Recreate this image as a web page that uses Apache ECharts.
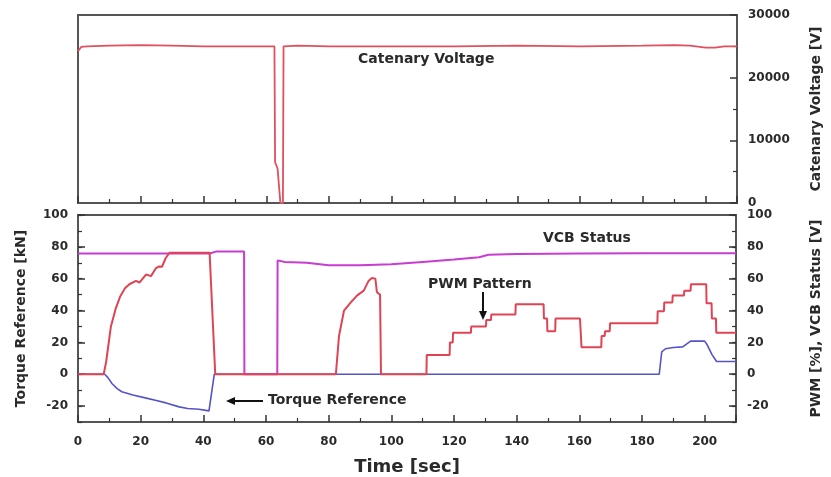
<!DOCTYPE html>
<html>
<head>
<meta charset="utf-8">
<script src="https://cdn.jsdelivr.net/npm/echarts@6/dist/echarts.min.js"></script>
<style>
  html, body { margin: 0; padding: 0; background: #fff; }
  #chart { width: 831px; height: 477px; }
</style>
</head>
<body>
<div id="chart"></div>
<script>
// catenary voltage (top panel)
const catTime = [0, 1, 3, 10, 20, 30, 40, 50, 60, 62.6, 62.8, 63.6, 64.0, 64.5, 65.3, 65.5, 70, 80, 100, 120, 140, 160, 180, 190, 195, 200, 203, 206, 210]
const catVolt = [24200, 24900, 25000, 25100, 25200, 25100, 25000, 25000, 25000, 25000, 6500, 5500, 3000, 0, 0, 25000, 25100, 25000, 25000, 25000, 25100, 25000, 25100, 25200, 25100, 24800, 24800, 25000, 25000]

// VCB status (magenta)
const vcbTime = [0, 42, 44, 53, 53.1, 63.6, 63.7, 66, 73, 80, 90, 100, 110, 120, 128, 131, 140, 160, 180, 200, 210]
const vcbVal = [75.8, 75.8, 77, 77, 0, 0, 71.5, 70.5, 70, 68.5, 68.5, 69, 70.5, 72, 73.5, 75, 75.5, 75.8, 76, 76, 76]

// PWM pattern (red)
const pwmTime = [0, 8.2, 9, 10.5, 12, 13.5, 15, 16.4, 18.5, 19.6, 21.7, 23.3, 24.9, 25.9, 26.8, 28, 29.2, 42, 43.8,
  82.3, 83.3, 84.9, 87, 89.1, 91.2, 92.7, 93.8, 94.9, 95.4, 96.4, 96.7,
  111.2, 111.3, 118.6, 118.7, 119.6, 119.7, 125.4, 125.5, 130.2, 130.3, 131.8, 131.9, 139.6, 139.7,
  148.6, 148.7, 149.7, 149.8, 152.3, 152.4, 160.2, 160.7, 167, 167.1, 168.1, 168.2, 169.7, 169.8,
  184.9, 185, 187, 187.1, 189.7, 189.8, 193.4, 193.5, 195.5, 195.6, 200.5, 200.6, 202.2, 202.3, 203.6, 203.7, 210]
const pwmVal = [0, 0, 8, 30, 41, 49, 54, 56.5, 58.6, 57.6, 62.6, 61.6, 66.7, 67.7, 67.5, 73, 76.3, 76.3, 0,
  0, 24, 40, 45, 49.5, 52.5, 58.5, 60.5, 60, 51.5, 50, 0,
  0, 12, 12, 20, 20, 26, 26, 30, 30, 34, 34, 37.5, 37.5, 44,
  44, 35, 35, 27, 27, 35, 35, 17, 17, 24, 24, 27, 27, 32,
  32, 39.5, 39.5, 45, 45, 49.5, 49.5, 52.5, 52.5, 56.5, 56.5, 44.5, 44.5, 35, 35, 26, 26]

// torque reference (blue)
const tqTime = [0, 8.5, 9.5, 10.9, 12.5, 14, 17.5, 21.8, 25, 28.1, 32.3, 35, 38.6, 41.8, 42.3, 43.5,
  185.5, 186.3, 187.5, 190, 193, 195.5, 200, 200.8, 202.3, 203.8, 210]
const tqVal = [0, 0, -2, -6, -9, -11, -13, -15, -16.5, -18, -20.5, -21.5, -22, -23, -23, 0,
  0, 14, 16, 16.8, 17.2, 20.8, 20.8, 18.5, 12.5, 8, 8]

const timeTicks = [0, 20, 40, 60, 80, 100, 120, 140, 160, 180, 200]
const lowerTicks = [-20, 0, 20, 40, 60, 80, 100]

const pairs = (xs, ys) => xs.map((x, i) => [x, ys[i]])

const FONT = 'DejaVu Sans'
const INK = '#2a2a2a'
const FRAME = '#555'
const TICK = '#333'

let chart = echarts.init(document.getElementById('chart'))

let xBase = {
  type: 'value',
  min: 0,
  max: 210,
  interval: 20,
  axisLine: { show: false, onZero: false },
  splitLine: { show: false },
  axisTick: { inside: true, length: 7, lineStyle: { color: TICK, width: 1.5 } },
  minorTick: { show: true, splitNumber: 2, length: 4, lineStyle: { color: TICK, width: 1.2 } }
}

// labelled axis carries the long ticks every 20, the overlay one the short ticks every 10
let lowerY = (pos, withLabels) => ({
  type: 'value',
  gridIndex: 1,
  position: pos,
  min: -30,
  max: 100,
  interval: 10,
  axisLine: { show: false, onZero: false },
  splitLine: { show: false },
  axisTick: withLabels
    ? { inside: true, length: 7, customValues: lowerTicks, lineStyle: { color: TICK, width: 1.5 } }
    : { inside: true, length: 4, lineStyle: { color: TICK, width: 1.2 } },
  axisLabel: withLabels
    ? { show: true, customValues: lowerTicks, margin: pos === 'left' ? 10 : 11, color: INK, fontFamily: FONT, fontSize: 12, fontWeight: 'bold' }
    : { show: false }
})

let nameStyle = { color: INK, fontFamily: FONT, fontSize: 14, fontWeight: 'bold' }

let option = {
  animation: false,
  backgroundColor: '#fff',
  grid: [
    { left: 78, right: 90, top: 15, height: 188, show: true, borderColor: FRAME, borderWidth: 2 },
    { left: 78, right: 90, top: 215, height: 214, show: true, borderColor: FRAME, borderWidth: 2 }
  ],
  xAxis: [
    Object.assign({}, xBase, { gridIndex: 0, axisLabel: { show: false } }),
    Object.assign({}, xBase, {
      gridIndex: 1,
      axisLabel: { customValues: timeTicks, margin: 14, color: INK, fontFamily: FONT, fontSize: 12, fontWeight: 'bold' },
      name: 'Time [sec]',
      nameLocation: 'middle',
      nameGap: 36,
      nameTextStyle: { color: INK, fontFamily: FONT, fontSize: 18, fontWeight: 'bold' }
    })
  ],
  yAxis: [
    {
      type: 'value',
      gridIndex: 0,
      position: 'right',
      min: 0,
      max: 30000,
      interval: 10000,
      axisLine: { show: false, onZero: false },
      splitLine: { show: false },
      axisTick: { inside: true, length: 7, lineStyle: { color: TICK, width: 1.5 } },
      minorTick: { show: true, splitNumber: 2, length: 4, lineStyle: { color: TICK, width: 1.2 } },
      axisLabel: { margin: 11, color: INK, fontFamily: FONT, fontSize: 12, fontWeight: 'bold', formatter: v => String(v) },
      name: 'Catenary Voltage [V]',
      nameLocation: 'middle',
      nameRotate: 90,
      nameGap: 72,
      nameTextStyle: nameStyle
    },
    Object.assign(lowerY('left', true), {
      name: 'Torque Reference [kN]',
      nameLocation: 'middle',
      nameRotate: 90,
      nameGap: 50,
      nameTextStyle: nameStyle
    }),
    lowerY('left', false),
    Object.assign(lowerY('right', true), {
      name: 'PWM [%], VCB Status [V]',
      nameLocation: 'middle',
      nameRotate: 90,
      nameGap: 73,
      nameTextStyle: nameStyle
    }),
    lowerY('right', false)
  ],
  series: [
    {
      name: 'Catenary Voltage',
      type: 'line',
      xAxisIndex: 0,
      yAxisIndex: 0,
      showSymbol: false,
      data: pairs(catTime, catVolt),
      lineStyle: { color: '#e0505e', width: 1.8 }
    },
    {
      name: 'Torque Reference',
      type: 'line',
      xAxisIndex: 1,
      yAxisIndex: 1,
      showSymbol: false,
      data: pairs(tqTime, tqVal),
      lineStyle: { color: '#5454c8', width: 1.6 }
    },
    {
      name: 'VCB Status',
      type: 'line',
      xAxisIndex: 1,
      yAxisIndex: 1,
      showSymbol: false,
      data: pairs(vcbTime, vcbVal),
      lineStyle: { color: '#c83cd0', width: 2 }
    },
    {
      name: 'PWM Pattern',
      type: 'line',
      xAxisIndex: 1,
      yAxisIndex: 1,
      showSymbol: false,
      data: pairs(pwmTime, pwmVal),
      lineStyle: { color: '#e04454', width: 2 }
    }
  ],
  graphic: [
    { type: 'text', left: 358, top: 52, style: { text: 'Catenary Voltage', fill: INK, font: 'bold 14px "DejaVu Sans"' } },
    { type: 'text', left: 543, top: 231, style: { text: 'VCB Status', fill: INK, font: 'bold 14px "DejaVu Sans"' } },
    { type: 'text', left: 428, top: 277, style: { text: 'PWM Pattern', fill: INK, font: 'bold 14px "DejaVu Sans"' } },
    { type: 'text', left: 268, top: 393, style: { text: 'Torque Reference', fill: INK, font: 'bold 14px "DejaVu Sans"' } },
    { type: 'line', shape: { x1: 483, y1: 292, x2: 483, y2: 312 }, style: { stroke: '#111', lineWidth: 2 } },
    { type: 'polygon', shape: { points: [[479, 311], [487, 311], [483, 320]] }, style: { fill: '#111' } },
    { type: 'line', shape: { x1: 234, y1: 401, x2: 263, y2: 401 }, style: { stroke: '#111', lineWidth: 2 } },
    { type: 'polygon', shape: { points: [[235, 397], [235, 405], [226, 401]] }, style: { fill: '#111' } }
  ]
}

chart.setOption(option)
</script>
</body>
</html>
